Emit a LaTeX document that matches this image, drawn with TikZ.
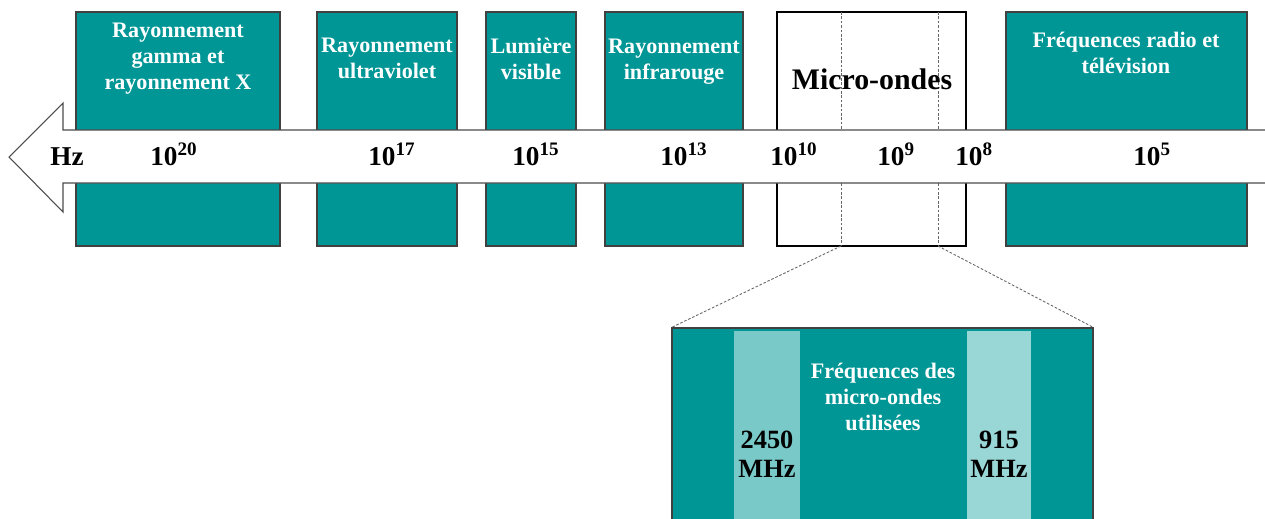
\documentclass[tikz,border=0pt]{standalone}
\usepackage{fontspec}
\setmainfont{Liberation Serif}
\usetikzlibrary{fit}
\definecolor{bandteal}{RGB}{0,150,150}
\definecolor{lightband}{RGB}{122,201,201}
\definecolor{paleband}{RGB}{153,214,214}
\newcommand{\tenpow}[1]{10\textsuperscript{#1}}

\begin{document}
\begin{tikzpicture}[x=0.02cm,y=-0.02cm,
    band/.style={fill=bandteal,draw=black!75,line width=0.6pt,inner sep=0pt},
    mwbox/.style={fill=white,draw=black,line width=0.6pt,inner sep=0pt},
    bandtxt/.style={text=white,font=\bfseries\fontsize{12.6}{14.8}\selectfont,
      align=center,anchor=north,inner sep=0pt},
    freq/.style={font=\bfseries\fontsize{15.5}{18}\selectfont,anchor=base west,inner sep=0pt},
    zoomline/.style={draw=black!60,dash pattern=on 1.5pt off 1pt,line width=0.5pt}]
  \clip (0,0) rectangle (1265,518);
  % frequency bands
  \node[band,fit={(76,12) (280,246)}] (gamma) {};
  \node[band,fit={(317,12) (457,246)}] (uv) {};
  \node[band,fit={(486,12) (576,246)}] (vis) {};
  \node[band,fit={(605,12) (743,246)}] (ir) {};
  \node[mwbox,fit={(777,12) (966,246)}] (micro) {};
  \node[band,fit={(1006,12) (1247,246)}] (radio) {};
  \coordinate (m1t) at (841,12);
  \coordinate (m1b) at (841,246);
  \coordinate (m2t) at (938,12);
  \coordinate (m2b) at (938,246);
  \draw[zoomline] (m1t) -- (m1b) (m2t) -- (m2b);
  % arrow
  \fill[white] (1270,130) -- (63,130) -- (63,103) -- (9,157) -- (63,212)
    -- (63,183) -- (1270,183) -- cycle;
  \draw[black!70,line width=0.6pt] (1270,130) -- (63,130) -- (63,103) -- (9,157)
    -- (63,212) -- (63,183) -- (1270,183);
  % labels
  \node[bandtxt] (gammatxt) at (178,23) {Rayonnement\\gamma et\\rayonnement X};
  \node[bandtxt] (uvtxt) at (387,38) {Rayonnement\\ultraviolet};
  \node[bandtxt] (vistxt) at (531,38) {Lumière\\visible};
  \node[bandtxt] (irtxt) at (674,39) {Rayonnement\\infrarouge};
  \node[bandtxt] (radiotxt) at (1126,32) {Fréquences radio et\\télévision};
  \node[font=\bfseries\fontsize{17}{20}\selectfont,anchor=base,inner sep=0pt]
    (microtxt) at (872,89) {Micro-ondes};
  \node[freq] (hz) at (50,165) {Hz};
  \node[freq] (f20) at (150,165) {\tenpow{20}};
  \node[freq] (f17) at (368,165) {\tenpow{17}};
  \node[freq] (f15) at (512,165) {\tenpow{15}};
  \node[freq] (f13) at (660,165) {\tenpow{13}};
  \node[freq] (f10) at (770,165) {\tenpow{10}};
  \node[freq] (f9) at (877,165) {\tenpow{9}};
  \node[freq] (f8) at (955,165) {\tenpow{8}};
  \node[freq] (f5) at (1133,165) {\tenpow{5}};
  % zoom on micro-ondes
  \node[band,fit={(672,328) (1093,530)}] (zoom) {};
  \fill[lightband] (734,331) rectangle (800,530);
  \fill[paleband] (967,331) rectangle (1031,530);
  \draw[zoomline] (m1b) -- (zoom.north west) (m2b) -- (zoom.north east);
  \node[bandtxt] (usedtxt) at (883,363) {Fréquences des\\micro-ondes\\utilisées};
  \node[font=\bfseries\fontsize{15}{16.5}\selectfont,align=center,anchor=north,inner sep=0pt]
    (f2450) at (767,431) {2450\\MHz};
  \node[font=\bfseries\fontsize{15}{16.5}\selectfont,align=center,anchor=north,inner sep=0pt]
    (f915) at (999,431) {915\\MHz};
\end{tikzpicture}
\end{document}
